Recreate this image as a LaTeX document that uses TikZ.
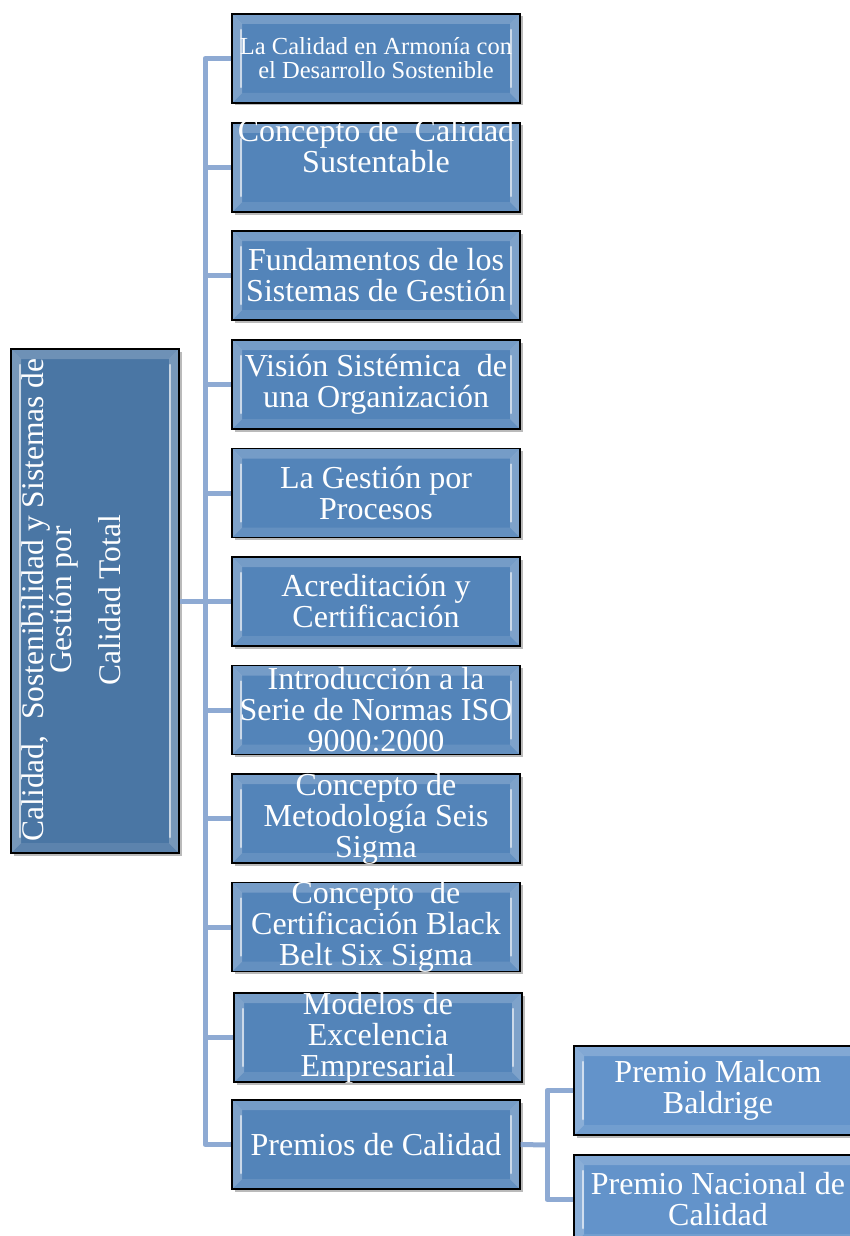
\documentclass[tikz,border=0pt]{standalone}
\usepackage{fontspec}
\setmainfont{Liberation Serif}
\usetikzlibrary{shadows}
\definecolor{rootfill}{HTML}{4A76A4}
\definecolor{kidfill}{HTML}{5384B9}
\definecolor{gkfill}{HTML}{6393CA}
\definecolor{conncol}{HTML}{8EAAD3}
\newcommand\tightlines{\lineskiplimit=-50pt\relax}
\tikzset{
  bevel/.style={path picture={
    \coordinate (bnw) at (path picture bounding box.north west);
    \coordinate (bse) at (path picture bounding box.south east);
    \coordinate (bne) at (bnw -| bse);
    \coordinate (bsw) at (bse -| bnw);
    \fill[white,opacity=.20] (bnw) -- (bne) -- ([shift={(-10pt,-10pt)}]bne) -- ([shift={(10pt,-10pt)}]bnw) -- cycle;
    \fill[white,opacity=.10] (bsw) -- (bse) -- ([shift={(-10pt,10pt)}]bse) -- ([shift={(10pt,10pt)}]bsw) -- cycle;
    \fill[white,opacity=.25] (bnw) -- ([shift={(10pt,-10pt)}]bnw) -- ([shift={(10pt,10pt)}]bsw) -- (bsw) -- cycle;
    \fill[white,opacity=.25] (bne) -- ([shift={(-10pt,-10pt)}]bne) -- ([shift={(-10pt,10pt)}]bse) -- (bse) -- cycle;
    \draw[white,opacity=.6,line width=2.5pt,line cap=round] ([shift={(9pt,-16pt)}]bnw) -- ([shift={(9pt,16pt)}]bsw);
    \draw[white,opacity=.6,line width=2.5pt,line cap=round] ([shift={(-9pt,-16pt)}]bne) -- ([shift={(-9pt,16pt)}]bse);
  }},
  boxbase/.style={draw=black, line width=1.3pt, inner sep=0pt, bevel,
    drop shadow={shadow xshift=2.5pt, shadow yshift=-2.5pt, opacity=.45, fill=black!60}},
  rootbox/.style={boxbase, fill=rootfill, minimum width=168pt, minimum height=504pt},
  kidbox/.style={boxbase, fill=kidfill, minimum width=288pt, minimum height=89pt},
  gkbox/.style={boxbase, fill=gkfill, minimum width=288pt, minimum height=89pt},
  txt/.style={text=white, align=center, inner sep=0pt, font=\fontsize{32}{31}\selectfont\tightlines},
  conn/.style={draw=conncol, line width=5pt, line join=round},
}
\begin{document}
\begin{tikzpicture}[x=1pt,y=-1pt]
\useasboundingbox (0,0) rectangle (850,1236);
\node[rootbox] (root) at (95,601) {};
\node[kidbox] (c1) at (376,58.5) {};
\node[kidbox] (c2) at (376,167.5) {};
\node[kidbox] (c3) at (376,275.5) {};
\node[kidbox] (c4) at (376,384.5) {};
\node[kidbox] (c5) at (376,493) {};
\node[kidbox] (c6) at (376,601.5) {};
\node[kidbox] (c7) at (376,710) {};
\node[kidbox] (c8) at (376,818.5) {};
\node[kidbox] (c9) at (376,927) {};
\node[kidbox] (c10) at (378,1037.5) {};
\node[kidbox] (c11) at (376,1144.5) {};
\node[gkbox] (g1) at (718,1090.5) {};
\node[gkbox] (g2) at (718,1199.5) {};
\coordinate (jt) at (205,601);
\coordinate (jg) at (547,1145);
\draw[conn] (root.east) -- (jt);
\draw[conn] (c1.west) -- (c1.west -| jt) -- (c11.west -| jt) -- (c11.west);
\foreach \k in {c2,c3,c4,c5,c6,c7,c8,c9,c10} {\draw[conn] (\k.west -| jt) -- (\k.west);}
\draw[conn] (c11.east) -- (jg);
\draw[conn] (g1.west) -- (g1.west -| jg) -- (g2.west -| jg) -- (g2.west);
% texts
\node[txt, rotate=90, font=\fontsize{31.5}{28}\selectfont\tightlines] (roott) at (71,600) {Calidad,\ \ Sostenibilidad y Sistemas de\\Gestión por\\[21pt]Calidad Total};
\node[txt, font=\fontsize{24.5}{24}\selectfont\tightlines] (c1t) at (c1) {La Calidad en Armonía con\\el Desarrollo Sostenible};
\node[txt] (c2t) at (376,146) {Concepto de\ \ Calidad\\Sustentable};
\node[txt] (c3t) at (c3) {Fundamentos de los\\Sistemas de Gestión};
\node[txt] (c4t) at (c4) {Visión Sistémica\ \ de\\una Organización};
\node[txt] (c5t) at (c5) {La Gestión por\\Procesos};
\node[txt] (c6t) at (c6) {Acreditación y\\Certificación};
\node[txt] (c7t) at (c7) {Introducción a la\\Serie de Normas ISO\\9000:2000};
\node[txt] (c8t) at (c8) {Concepto de\\Metodología Seis\\Sigma};
\node[txt] (c9t) at (c9) {Concepto\ \ de\\Certificación Black\\Belt Six Sigma};
\node[txt] (c10t) at (c10) {Modelos de\\Excelencia\\Empresarial};
\node[txt] (c11t) at (c11) {Premios de Calidad};
\node[txt] (g1t) at (g1) {Premio Malcom\\Baldrige};
\node[txt] (g2t) at (g2) {Premio Nacional de\\Calidad};
\end{tikzpicture}
\end{document}
